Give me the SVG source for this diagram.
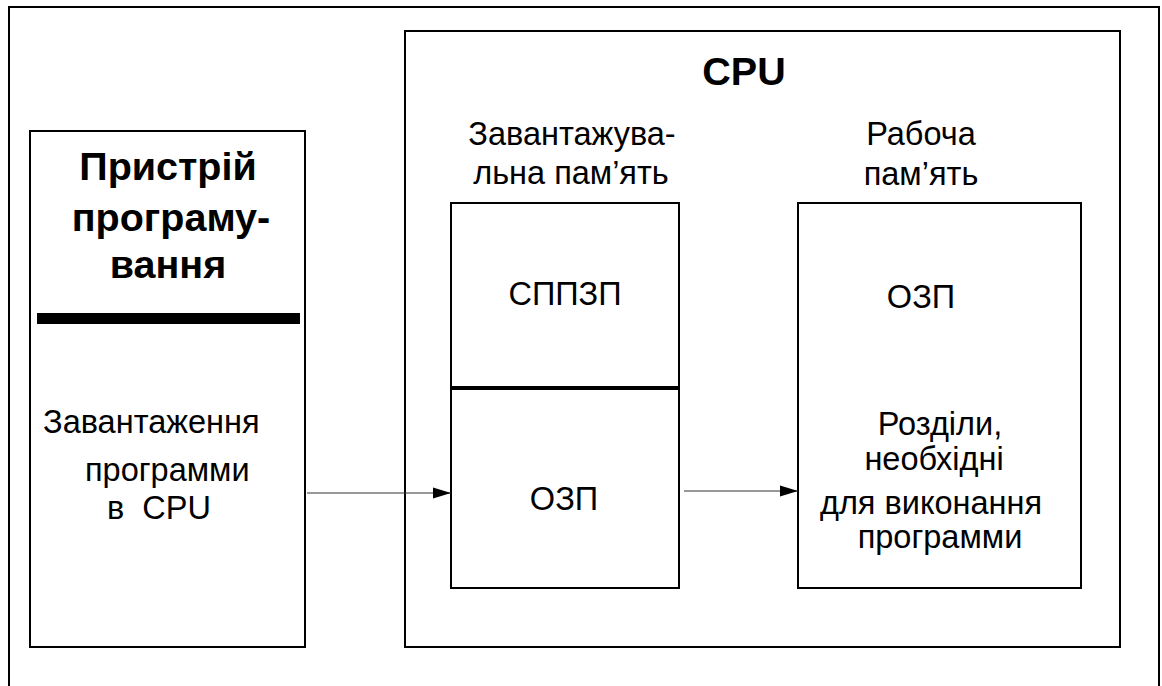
<svg xmlns="http://www.w3.org/2000/svg" width="1162" height="686" viewBox="0 0 1162 686">
<defs>
<style>
.box{fill:#fff;stroke:#000;stroke-width:2}
.t{font-family:"Liberation Sans",Arial,sans-serif;font-size:32.5px;fill:#000}
.m{text-anchor:middle}
.b{font-weight:bold;font-size:39.5px}
.conn{stroke:#333;stroke-width:1.2;fill:none}
</style>
<marker id="arr" markerUnits="userSpaceOnUse" markerWidth="18" markerHeight="12" refX="18" refY="6" orient="auto">
<path d="M0,0.5 L18,6 L0,11.5 z" fill="#000"/>
</marker>
</defs>
<rect width="1162" height="686" fill="#fff"/>
<g id="frame">
<rect x="9" y="7" width="1150" height="700" fill="none" stroke="#000" stroke-width="2"/>
</g>
<g id="programmer">
<rect class="box" x="30" y="131" width="275" height="516"/>
<rect x="37" y="313" width="263" height="11" fill="#000"/>
<text class="t b m" x="168" y="180">Пристрій</text>
<text class="t b m" x="171" y="231">програму-</text>
<text class="t b m" x="168" y="278">вання</text>
<text class="t" x="43" y="433">Завантаження</text>
<text class="t" x="85" y="481">программи</text>
<text class="t" x="107" y="519" xml:space="preserve">в  CPU</text>
</g>
<g id="cpu">
<rect class="box" x="405" y="31" width="715" height="616"/>
<text class="t b m" x="744" y="85">CPU</text>
</g>
<g id="load-memory">
<text class="t m" x="572" y="145">Завантажува-</text>
<text class="t m" x="571" y="184">льна пам’ять</text>
<rect class="box" x="451" y="203" width="228" height="385"/>
<line x1="451" y1="388" x2="679" y2="388" stroke="#000" stroke-width="4"/>
<text class="t m" x="565" y="305">СППЗП</text>
<text class="t m" x="564" y="510">ОЗП</text>
</g>
<g id="work-memory">
<text class="t m" x="921" y="145">Рабоча</text>
<text class="t m" x="921" y="185">пам’ять</text>
<rect class="box" x="798" y="203" width="283" height="385"/>
<text class="t m" x="921" y="308">ОЗП</text>
<text class="t m" x="940" y="435">Розділи,</text>
<text class="t m" x="934" y="470">необхідні</text>
<text class="t m" x="931" y="514">для виконання</text>
<text class="t m" x="940" y="548">программи</text>
</g>
<g id="connectors">
<line class="conn" x1="307" y1="493" x2="451" y2="493" marker-end="url(#arr)"/>
<line class="conn" x1="684" y1="491" x2="798" y2="491" marker-end="url(#arr)"/>
</g>
</svg>
